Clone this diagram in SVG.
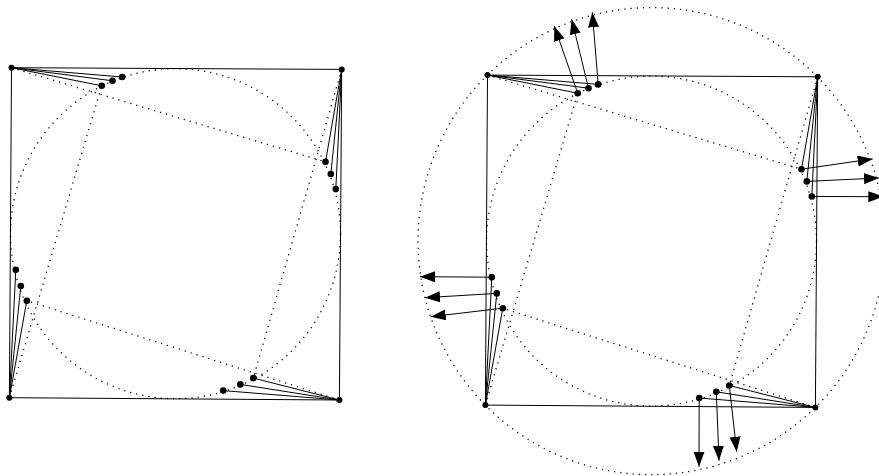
<svg xmlns="http://www.w3.org/2000/svg" width="879" height="476" viewBox="0 0 879 476">
<style>
.edge{fill:none;stroke:#000;stroke-width:1}
.dotted{fill:none;stroke:#000;stroke-width:1.3;stroke-dasharray:1.2 5}
.ray{fill:none;stroke:#000;stroke-width:1}
.dot{fill:#000}
.arrow{fill:none;stroke:#000;stroke-width:1;marker-end:url(#ah)}
</style>
<defs>
<marker id="ah" markerUnits="userSpaceOnUse" markerWidth="16" markerHeight="12" refX="15" refY="5.5" orient="auto">
<path d="M0,0 L15,5.5 L0,11 Z" fill="#000"/>
</marker>
</defs>
<rect width="879" height="476" fill="#fff"/>

<g id="left-diagram">
  <g id="left-connectors">
    <polygon class="edge" points="11.5,67.7 341.7,69.4 339.4,400 9.4,397.7"/>
    <circle class="dotted" cx="175.5" cy="233.7" r="165"/>
    <line class="dotted" x1="11.5" y1="67.7" x2="325.5" y2="161.8"/>
    <line class="dotted" x1="341.7" y1="69.4" x2="253.3" y2="378.1"/>
    <line class="dotted" x1="339.4" y1="400" x2="26.8" y2="300.8"/>
    <line class="dotted" x1="9.4" y1="397.7" x2="101.7" y2="85.8"/>
    <path class="ray" d="M11.5,67.7 L101.7,85.8 M11.5,67.7 L112.5,80.8 M11.5,67.7 L122.2,77"/>
    <path class="ray" d="M341.7,69.4 L325.5,161.8 M341.7,69.4 L330.8,174 M341.7,69.4 L335.8,189.1"/>
    <path class="ray" d="M339.4,400 L223.2,390.6 M339.4,400 L240.3,384.4 M339.4,400 L253.3,378.1"/>
    <path class="ray" d="M9.4,397.7 L15.8,269.8 M9.4,397.7 L20.8,286 M9.4,397.7 L26.8,300.8"/>
  </g>
  <g id="L-corner-tl"><circle class="dot" cx="11.5" cy="67.7" r="3"/><circle class="dot" cx="101.7" cy="85.8" r="3.3"/><circle class="dot" cx="112.5" cy="80.8" r="3.3"/><circle class="dot" cx="122.2" cy="77" r="3.3"/></g>
  <g id="L-corner-tr"><circle class="dot" cx="341.7" cy="69.4" r="3"/><circle class="dot" cx="325.5" cy="161.8" r="3.3"/><circle class="dot" cx="330.8" cy="174" r="3.3"/><circle class="dot" cx="335.8" cy="189.1" r="3.3"/></g>
  <g id="L-corner-br"><circle class="dot" cx="339.4" cy="400" r="3"/><circle class="dot" cx="223.2" cy="390.6" r="3.3"/><circle class="dot" cx="240.3" cy="384.4" r="3.3"/><circle class="dot" cx="253.3" cy="378.1" r="3.3"/></g>
  <g id="L-corner-bl"><circle class="dot" cx="9.4" cy="397.7" r="3"/><circle class="dot" cx="15.8" cy="269.8" r="3.3"/><circle class="dot" cx="20.8" cy="286" r="3.3"/><circle class="dot" cx="26.8" cy="300.8" r="3.3"/></g>
</g>

<g id="right-diagram" transform="translate(476,7.4)">
  <g id="right-connectors">
    <polygon class="edge" points="11.5,67.7 341.7,69.4 339.4,400 9.4,397.7"/>
    <circle class="dotted" cx="175.5" cy="233.7" r="165"/>
    <circle class="dotted" cx="175.5" cy="233.7" r="233.5"/>
    <line class="dotted" x1="11.5" y1="67.7" x2="325.5" y2="161.8"/>
    <line class="dotted" x1="341.7" y1="69.4" x2="253.3" y2="378.1"/>
    <line class="dotted" x1="339.4" y1="400" x2="26.8" y2="300.8"/>
    <line class="dotted" x1="9.4" y1="397.7" x2="101.7" y2="85.8"/>
    <path class="ray" d="M11.5,67.7 L101.7,85.8 M11.5,67.7 L112.5,80.8 M11.5,67.7 L122.2,77"/>
    <path class="ray" d="M341.7,69.4 L325.5,161.8 M341.7,69.4 L330.8,174 M341.7,69.4 L335.8,189.1"/>
    <path class="ray" d="M339.4,400 L223.2,390.6 M339.4,400 L240.3,384.4 M339.4,400 L253.3,378.1"/>
    <path class="ray" d="M9.4,397.7 L15.8,269.8 M9.4,397.7 L20.8,286 M9.4,397.7 L26.8,300.8"/>
    <line class="arrow" x1="101.7" y1="85.8" x2="78.3" y2="18.6"/>
    <line class="arrow" x1="112.5" y1="80.8" x2="95.7" y2="11.9"/>
    <line class="arrow" x1="122.2" y1="77" x2="116.3" y2="4.9"/>
    <line class="arrow" x1="325.5" y1="161.8" x2="396.7" y2="151.5"/>
    <line class="arrow" x1="330.8" y1="174" x2="403" y2="170.6"/>
    <line class="arrow" x1="335.8" y1="189.1" x2="407.3" y2="189.3"/>
    <line class="arrow" x1="15.8" y1="269.8" x2="-56" y2="269.3"/>
    <line class="arrow" x1="20.8" y1="286" x2="-51" y2="290.3"/>
    <line class="arrow" x1="26.8" y1="300.8" x2="-45.3" y2="309.3"/>
    <line class="arrow" x1="223.2" y1="390.6" x2="223" y2="459.3"/>
    <line class="arrow" x1="240.3" y1="384.4" x2="243" y2="453.3"/>
    <line class="arrow" x1="253.3" y1="378.1" x2="260.7" y2="444.3"/>
  </g>
  <g id="R-corner-tl"><circle class="dot" cx="11.5" cy="67.7" r="3"/><circle class="dot" cx="101.7" cy="85.8" r="3.3"/><circle class="dot" cx="112.5" cy="80.8" r="3.3"/><circle class="dot" cx="122.2" cy="77" r="3.3"/></g>
  <g id="R-corner-tr"><circle class="dot" cx="341.7" cy="69.4" r="3"/><circle class="dot" cx="325.5" cy="161.8" r="3.3"/><circle class="dot" cx="330.8" cy="174" r="3.3"/><circle class="dot" cx="335.8" cy="189.1" r="3.3"/></g>
  <g id="R-corner-br"><circle class="dot" cx="339.4" cy="400" r="3"/><circle class="dot" cx="223.2" cy="390.6" r="3.3"/><circle class="dot" cx="240.3" cy="384.4" r="3.3"/><circle class="dot" cx="253.3" cy="378.1" r="3.3"/></g>
  <g id="R-corner-bl"><circle class="dot" cx="9.4" cy="397.7" r="3"/><circle class="dot" cx="15.8" cy="269.8" r="3.3"/><circle class="dot" cx="20.8" cy="286" r="3.3"/><circle class="dot" cx="26.8" cy="300.8" r="3.3"/></g>
</g>
</svg>
